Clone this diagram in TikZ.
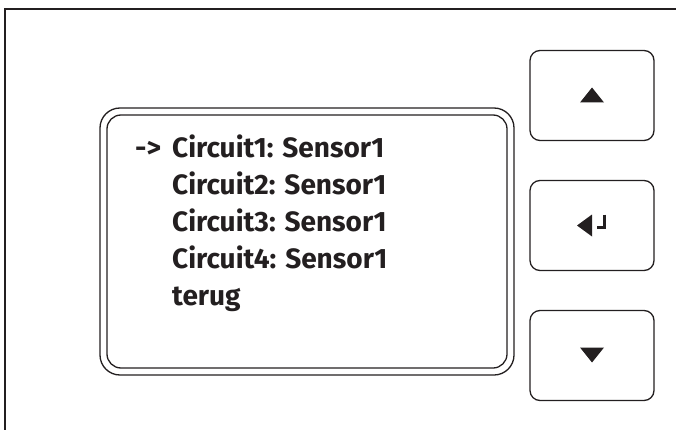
\documentclass[tikz,border=0pt]{standalone}
\usepackage{fontspec}
\setmainfont{Fira Sans}
\definecolor{ink}{HTML}{231F20}
\begin{document}
\begin{tikzpicture}[x=1pt,y=-1pt,
  frame/.style={draw=ink,line width=1.2pt},
  btn/.style={draw=ink,line width=1.3pt,rounded corners=10pt,minimum width=124pt,minimum height=90pt,inner sep=0pt},
  disp/.style={draw=ink,line width=1.3pt,inner sep=0pt},
  txt/.style={anchor=base west,inner sep=0pt,text=ink,font=\fontsize{28}{32}\selectfont\bfseries},
  tri/.style={fill=ink,draw=none}]
\useasboundingbox (0,0) rectangle (676,430);
% outer frame
\coordinate (fa) at (5,430);
\coordinate (fb) at (5,9);
\coordinate (fc) at (676,9);
\draw[frame] (fa) -- (fb) -- (fc);
% display
\node[disp,rounded corners=20pt,minimum width=414pt,minimum height=267pt] (outer) at (307,241.5) {};
\node[disp,rounded corners=14pt,minimum width=400pt,minimum height=253pt] (inner) at (307,241.5) {};
% text
\node[txt] (arrow) at (135,158) {-{}>};
\node[txt] (l1) at (172,158) {Circuit1: Sensor1};
\node[txt] (l2) at (172,194.5) {Circuit2: Sensor1};
\node[txt] (l3) at (172,231.5) {Circuit3: Sensor1};
\node[txt] (l4) at (172,268.5) {Circuit4: Sensor1};
\node[txt] (l5) at (172,305) {terug};
% buttons
\node[btn] (up) at (592,95.5) {};
\node[btn] (enter) at (592,225.5) {};
\node[btn] (down) at (592,355.5) {};
% symbols
\fill[tri] ([xshift=-12pt,yshift=-7pt]up.center) -- ([xshift=12pt,yshift=-7pt]up.center) -- ([yshift=8pt]up.center) -- cycle;
\fill[tri] ([xshift=-12pt,yshift=8pt]down.center) -- ([xshift=12pt,yshift=8pt]down.center) -- ([yshift=-7pt]down.center) -- cycle;
\fill[tri] ([xshift=-15pt]enter.center) -- ([xshift=0pt,yshift=11pt]enter.center) -- ([xshift=0pt,yshift=-11pt]enter.center) -- cycle;
\draw[ink,line width=3pt] ([xshift=12.5pt,yshift=11pt]enter.center) -- ([xshift=12.5pt,yshift=-1.5pt]enter.center) -- ([xshift=4.5pt,yshift=-1.5pt]enter.center);
\end{tikzpicture}
\end{document}
